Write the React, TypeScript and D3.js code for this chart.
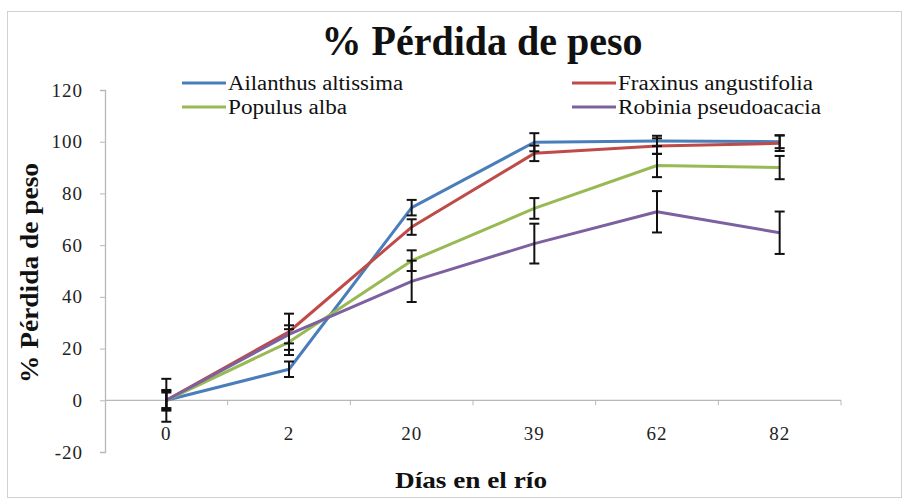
import * as d3 from 'd3';
import React, {useEffect, useRef} from 'react';

// days in the river (x categories)
const days = ["0", "2", "20", "39", "62", "82"];

const seriesNames = ["Ailanthus altissima", "Fraxinus angustifolia", "Populus alba", "Robinia pseudoacacia"];
const seriesColors = ["#4a7ebb", "#be4b48", "#98b954", "#7d60a0"];

// % weight loss per series
const ailanthus = [0, 12, 74.5, 99.8, 100.3, 100];
const fraxinus = [0, 26.5, 67, 95.5, 98.3, 99.4];
const populus = [0, 22.5, 54, 74.2, 90.8, 90];
const robinia = [0, 25.5, 46, 60.6, 72.9, 64.8];

// error bar half-widths
const ailanthusErr = [8.3, 3, 3, 3.5, 2, 2.5];
const fraxinusErr = [3.6, 7, 3, 3, 3, 3];
const populusErr = [3, 5, 4, 4, 4.5, 4.5];
const robiniaErr = [4, 3.5, 8, 7.7, 8, 8.2];

const yTicks = [-20, 0, 20, 40, 60, 80, 100, 120];

const W = 906, H = 500;
const serif = "Liberation Serif";

export default function App() {
    const ref = useRef<SVGSVGElement>(null);

    useEffect(() => {
        const svg = d3.select(ref.current);
        svg.selectAll("*").remove();

        const values = [ailanthus, fraxinus, populus, robinia];
        const errs = [ailanthusErr, fraxinusErr, populusErr, robiniaErr];

        const x = d3.scaleBand().domain(days).range([105, 841]).padding(0);
        const y = d3.scaleLinear().domain([-20, 120]).range([452, 90]);
        const cx = (d: string) => (x(d) as number) + x.bandwidth() / 2;

        // outer chart border
        svg.append("rect")
            .attr("x", 7.5).attr("y", 11.5)
            .attr("width", W - 12).attr("height", H - 14)
            .attr("fill", "white").attr("stroke", "#d0d0d0");

        // title
        svg.append("text")
            .text("% Pérdida de peso")
            .attr("x", 482).attr("y", 55)
            .attr("text-anchor", "middle")
            .attr("textLength", 321).attr("lengthAdjust", "spacingAndGlyphs")
            .attr("font-family", serif).attr("font-weight", "bold")
            .attr("font-size", 42).attr("fill", "#111");

        // y axis
        const yAxis = d3.axisLeft(y).tickValues(yTicks).tickSize(5).tickPadding(17)
            .tickFormat((d) => String(d));
        const gy = svg.append("g").attr("transform", "translate(105,0)").call(yAxis);
        gy.attr("font-family", serif).attr("font-size", 19);
        gy.select(".domain").attr("stroke", "#b8b8b8").attr("stroke-width", 1.3);
        gy.selectAll(".tick line").attr("stroke", "#b8b8b8");
        gy.selectAll(".tick text").attr("fill", "#222").attr("letter-spacing", 1);

        // x axis along zero line
        const gx = svg.append("g").attr("transform", `translate(0,${y(0)})`);
        gx.append("line").attr("x1", 105).attr("x2", 841)
            .attr("stroke", "#b8b8b8").attr("stroke-width", 1.3);
        gx.selectAll(".xt")
            .data(days)
            .enter().append("line")
            .attr("x1", (d, i) => 105 + x.bandwidth() * (i + 1))
            .attr("x2", (d, i) => 105 + x.bandwidth() * (i + 1))
            .attr("y1", 0).attr("y2", 5)
            .attr("stroke", "#b8b8b8");

        svg.selectAll(".xlab")
            .data(days)
            .enter().append("text")
            .text((d) => d)
            .attr("x", (d) => cx(d)).attr("y", 440)
            .attr("text-anchor", "middle")
            .attr("letter-spacing", 1)
            .attr("font-family", serif).attr("font-size", 19).attr("fill", "#222");

        // axis titles
        svg.append("text")
            .text("Días en el río")
            .attr("x", 471).attr("y", 488)
            .attr("text-anchor", "middle")
            .attr("textLength", 152).attr("lengthAdjust", "spacingAndGlyphs")
            .attr("font-family", serif).attr("font-weight", "bold")
            .attr("font-size", 24).attr("fill", "#111");

        svg.append("text")
            .text("% Pérdida de peso")
            .attr("transform", "translate(38,273) rotate(-90)")
            .attr("text-anchor", "middle")
            .attr("textLength", 220).attr("lengthAdjust", "spacingAndGlyphs")
            .attr("font-family", serif).attr("font-weight", "bold")
            .attr("font-size", 25).attr("fill", "#111");

        // lines
        const line = d3.line<number>()
            .x((d, i) => cx(days[i]))
            .y((d) => y(d));

        values.forEach((vals, s) => {
            svg.append("path")
                .datum(vals)
                .attr("d", line)
                .attr("fill", "none")
                .attr("stroke", seriesColors[s])
                .attr("stroke-width", 3)
                .attr("stroke-linejoin", "round");
        });

        // error bars
        values.forEach((vals, s) => {
            const g = svg.append("g").attr("stroke", "#111").attr("stroke-width", 2);
            vals.forEach((v, i) => {
                const px = cx(days[i]);
                const e = errs[s][i];
                g.append("line").attr("x1", px).attr("x2", px).attr("y1", y(v - e)).attr("y2", y(v + e));
                g.append("line").attr("x1", px - 5).attr("x2", px + 5).attr("y1", y(v - e)).attr("y2", y(v - e));
                g.append("line").attr("x1", px - 5).attr("x2", px + 5).attr("y1", y(v + e)).attr("y2", y(v + e));
            });
        });

        // legend
        const legendPos = [[182, 83], [572, 83], [182, 107], [572, 107]];
        const legendLen = [175, 195, 119, 203];
        const legend = svg.append("g");
        seriesNames.forEach((name, i) => {
            const [lx, ly] = legendPos[i];
            legend.append("line")
                .attr("x1", lx).attr("x2", lx + 44)
                .attr("y1", ly).attr("y2", ly)
                .attr("stroke", seriesColors[i]).attr("stroke-width", 3);
            legend.append("text")
                .text(name)
                .attr("x", lx + 46).attr("y", ly + 7)
                .attr("textLength", legendLen[i]).attr("lengthAdjust", "spacingAndGlyphs")
                .attr("font-family", serif).attr("font-size", 20).attr("fill", "#111");
        });
    }, []);

    return (
        <div style={{position: "absolute", left: 0, top: 0}}>
            <svg ref={ref} width={W} height={H} style={{display: "block", background: "white"}} />
        </div>
    );
}
